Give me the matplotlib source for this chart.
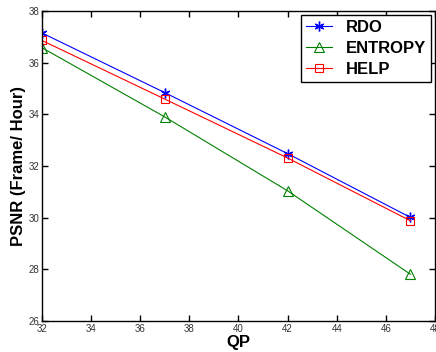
import matplotlib
matplotlib.use("Agg")
import matplotlib.pyplot as plt

qp = [32, 37, 42, 47]
rdo = [37.15, 34.84, 32.48, 30.01]
entropy = [36.58, 33.90, 31.04, 27.81]
help_ = [36.86, 34.59, 32.31, 29.88]

xticks = [32, 34, 36, 38, 40, 42, 44, 46, 48]
yticks = [26, 28, 30, 32, 34, 36, 38]

plt.rcParams["font.family"] = ["Liberation Sans", "DejaVu Sans"]

fig = plt.figure(figsize=(4.36, 3.52), dpi=100)
ax = fig.add_axes([0.0963, 0.088, 0.9014, 0.8807])

# asterisk marker like MATLAB's '*'
ax.plot(qp, rdo, color="blue", lw=0.8, marker=(6, 2, 0), ms=7, mew=1.0,
        label="RDO")
ax.plot(qp, entropy, color="green", lw=0.8, marker="^", ms=7.5, mfc="none",
        mew=0.8, label="ENTROPY")
ax.plot(qp, help_, color="red", lw=0.8, marker="s", ms=5.5, mfc="none",
        mew=0.8, label="HELP")

ax.set_xlim(32, 48)
ax.set_ylim(26, 38)
ax.set_xticks(xticks)
ax.set_yticks(yticks)
ax.tick_params(direction="in", top=True, right=True, length=4, width=1,
               labelsize=7, labelcolor="#333333", pad=2)
for s in ax.spines.values():
    s.set_linewidth(1)

ax.set_xlabel("QP", fontsize=12, fontweight="bold", labelpad=1)
ax.set_ylabel("PSNR (Frame/ Hour)", fontsize=12, fontweight="bold",
              labelpad=2)

leg = ax.legend(loc="upper right", prop={"weight": "bold", "size": 12},
                fancybox=False, edgecolor="black", framealpha=1,
                borderaxespad=0.25, handlelength=1.6, handletextpad=0.8,
                borderpad=0.3, labelspacing=0.35)
leg.get_frame().set_linewidth(1)

fig.savefig("out.png", dpi=100)
